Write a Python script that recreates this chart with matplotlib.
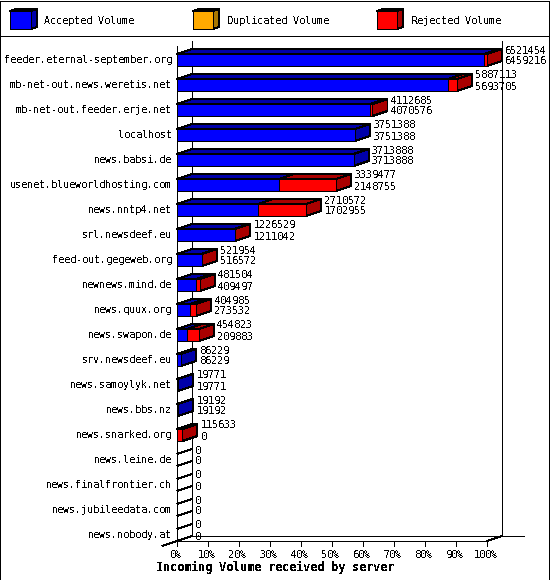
import matplotlib
matplotlib.use("Agg")
import matplotlib.pyplot as plt

servers = ["feeder.eternal-september.org", "mb-net-out.news.weretis.net", "mb-net-out.feeder.erje.net",
           "localhost", "news.babsi.de", "usenet.blueworldhosting.com", "news.nntp4.net", "srl.newsdeef.eu",
           "feed-out.gegeweb.org", "newnews.mind.de", "news.quux.org", "news.swapon.de", "srv.newsdeef.eu",
           "news.samoylyk.net", "news.bbs.nz", "news.snarked.org", "news.leine.de", "news.finalfrontier.ch",
           "news.jubileedata.com", "news.nobody.at"]
offered = [6521454, 5887113, 4112685, 3751388, 3713888, 3339477, 2710572, 1226529, 521954, 481504,
           404985, 454823, 86229, 19771, 19192, 115633, 0, 0, 0, 0]
accepted = [6459216, 5693705, 4070576, 3751388, 3713888, 2148755, 1702955, 1211042, 516572, 409497,
            273532, 209883, 86229, 19771, 19192, 0, 0, 0, 0, 0]
legend_labels = ["Accepted Volume", "Duplicated Volume", "Rejected Volume"]
xtick_values = list(range(0, 101, 10))
xlabel_text = "Incoming Volume received by server"

plt.rcParams.update({"text.antialiased": False, "lines.antialiased": False, "patch.antialiased": False,
                     "font.family": "DejaVu Sans Mono", "text.hinting": "force_autohint",
                     "text.hinting_factor": 1})
W, H = 550, 580
BLUE, DBLUE = "#0000ff", "#0000aa"
ORANGE, DORANGE = "#ffaa00", "#aa7700"
RED, DRED = "#ff0000", "#aa0000"
LW = 0.72
FS = 7.2

fig = plt.figure(figsize=(W / 100, H / 100), dpi=100, facecolor="white")
ax = fig.add_axes([177 / W, 1 - 541 / H, 310 / W, 500 / H])
ax.set_xlim(0, 100)
ax.set_ylim(len(servers), 0)
ax.axis("off")

dx = 15 / 3.1
dy = 5 / 25
front_top = 13 / 25
front_h = 12 / 25
kw = dict(clip_on=False, edgecolor="black", linewidth=LW)
line = dict(clip_on=False, color="black", linewidth=LW, solid_capstyle="butt")
n = len(servers)

ax.plot([dx, dx], [0, n - dy], zorder=1, **line)
ax.plot([100 + dx, 100 + dx], [0, n - dy], zorder=1, **line)
ax.plot([0, 0], [dy, n], zorder=5, **line)
ax.plot([dx, 112], [n - dy, n - dy], zorder=1, **line)
ax.plot([0, 100], [n, n], zorder=1, **line)
ax.plot([100, 100 + dx], [n, n - dy], zorder=1, **line)
ax.plot([-dx, 0], [n + dy, n], zorder=1, **line)
for t in xtick_values:
    ax.plot([t, t], [n, n + dy], zorder=1, **line)
    ax.text(t - 0.4, n + 0.54, f"{t}%", ha="center", va="center", fontsize=FS, clip_on=False)

maximum = max(offered)
for i, (name, tot, acc) in enumerate(zip(servers, offered, accepted)):
    t = i + front_top
    b = t + front_h
    p_tot = tot / maximum * 100
    p_acc = acc / maximum * 100
    ax.text(-1.5, i + 0.76, name, ha="right", va="center", fontsize=FS, clip_on=False)
    if tot == 0:
        ax.plot([0, dx], [t, t - dy], zorder=2, **line)
        ax.plot([0, dx], [b, b - dy], zorder=2, **line)
    else:
        if p_acc > 0:
            ax.fill([0, p_acc, p_acc + dx, dx], [t, t, t - dy, t - dy], facecolor=DBLUE, zorder=2, **kw)
        if p_tot > p_acc:
            ax.fill([p_acc, p_tot, p_tot + dx, p_acc + dx], [t, t, t - dy, t - dy], facecolor=DRED, zorder=2, **kw)
        side = DRED if p_tot > p_acc else DBLUE
        ax.fill([p_tot, p_tot + dx, p_tot + dx, p_tot], [t, t - dy, b - dy, b], facecolor=side, zorder=2, **kw)
        if p_acc > 0:
            ax.barh(t, p_acc, height=front_h, align="edge", color=BLUE, zorder=3, **kw)
        if p_tot > p_acc:
            ax.barh(t, p_tot - p_acc, left=p_acc, height=front_h, align="edge", color=RED, zorder=3, **kw)
    tx = p_tot + dx + 1.1
    ax.text(tx, i + 0.38, str(tot), ha="left", va="center", fontsize=FS, clip_on=False, zorder=6)
    ax.text(tx, i + 0.82, str(acc), ha="left", va="center", fontsize=FS, clip_on=False, zorder=6)

ov = fig.add_axes([0, 0, 1, 1])
ov.set_xlim(0, W)
ov.set_ylim(H, 0)
ov.axis("off")
ov.patch.set_alpha(0)
ov.plot([0, 549, 549, 0, 0], [1, 1, 579.9, 579.9, 1], **line)
ov.plot([0, 549], [36, 36], **line)
for x0, w, fc, dc, tx, lab in [(10, 21, BLUE, DBLUE, 44, legend_labels[0]),
                               (193, 20, ORANGE, DORANGE, 227, legend_labels[1]),
                               (377, 20, RED, DRED, 411, legend_labels[2])]:
    x1 = x0 + w
    ov.fill([x0, x1, x1 + 6, x0 + 6], [11, 11, 9, 9], facecolor=dc, **kw)
    ov.fill([x1, x1 + 6, x1 + 6, x1], [11, 9, 27, 29], facecolor=dc, **kw)
    ov.fill([x0, x1, x1, x0], [11, 11, 29, 29], facecolor=fc, **kw)
    ov.text(tx, 20.5, lab, ha="left", va="center", fontsize=FS)
ov.text(274.5, 567.5, xlabel_text, ha="center", va="center", fontsize=8.6, fontweight="bold")

fig.savefig("out.png", dpi=100, facecolor="white")
